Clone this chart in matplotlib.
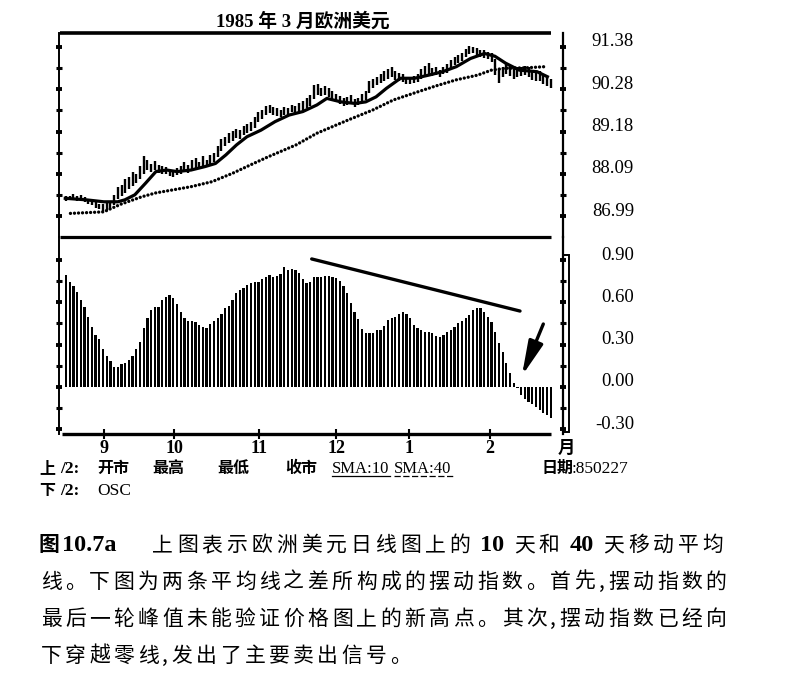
import matplotlib
matplotlib.use('Agg')
import matplotlib.pyplot as plt
import matplotlib.transforms as mtrans
from matplotlib.patches import Rectangle

W, H = 799, 688
CJK = 'Noto Sans CJK SC'
SERIF = 'Liberation Serif'
plt.rcParams['font.family'] = [SERIF, CJK, 'DejaVu Sans']

# ---------------- data ----------------
title = '1985 年 3 月欧洲美元'
month_pos = [10.3, 29.2, 52.2, 73.0, 92.7, 114.6]
month_labels = ['9', '10', '11', '12', '1', '2']
price_ticks = [86.99, 88.09, 89.18, 90.28, 91.38]
osc_ticks = [0.90, 0.60, 0.30, 0.00, -0.30]

highs = [87.53, 87.52, 87.56, 87.52, 87.55, 87.50, 87.45, 87.40, 87.38, 87.32,
         87.30, 87.33, 87.38, 87.55, 87.75, 87.80, 87.95, 88.00, 88.15, 88.10,
         88.30, 88.55, 88.45, 88.35, 88.42, 88.32, 88.30, 88.28, 88.20, 88.18,
         88.25, 88.30, 88.40, 88.32, 88.45, 88.50, 88.40, 88.55, 88.45, 88.58,
         88.62, 88.80, 89.00, 89.05, 89.15, 89.20, 89.25, 89.22, 89.32, 89.38,
         89.42, 89.55, 89.68, 89.75, 89.85, 89.88, 89.82, 89.80, 89.75, 89.82,
         89.80, 89.88, 89.85, 89.92, 89.98, 90.05, 90.12, 90.38, 90.40, 90.32,
         90.35, 90.30, 90.22, 90.15, 90.10, 90.05, 90.08, 90.12, 90.02, 90.05,
         90.15, 90.22, 90.50, 90.55, 90.60, 90.68, 90.75, 90.80, 90.86, 90.75,
         90.70, 90.66, 90.60, 90.58, 90.62, 90.66, 90.80, 90.88, 90.95, 90.82,
         90.85, 90.78, 90.86, 90.92, 91.02, 91.12, 91.16, 91.22, 91.32, 91.39,
         91.38, 91.34, 91.30, 91.28, 91.25, 91.22, 91.05, 90.80, 90.85, 90.95,
         90.90, 90.80, 90.85, 90.86, 90.88, 90.84, 90.76, 90.72, 90.74, 90.64,
         90.60, 90.55]
lows = [87.40, 87.41, 87.43, 87.40, 87.42, 87.37, 87.30, 87.28, 87.22, 87.18,
        87.14, 87.17, 87.22, 87.28, 87.45, 87.52, 87.60, 87.70, 87.78, 87.85,
        87.95, 88.08, 88.18, 88.15, 88.20, 88.12, 88.10, 88.08, 88.03, 88.00,
        88.05, 88.10, 88.15, 88.12, 88.20, 88.25, 88.22, 88.28, 88.26, 88.32,
        88.40, 88.52, 88.68, 88.80, 88.90, 88.95, 89.02, 89.00, 89.10, 89.15,
        89.20, 89.28, 89.42, 89.50, 89.60, 89.66, 89.62, 89.58, 89.55, 89.60,
        89.62, 89.68, 89.66, 89.70, 89.75, 89.80, 89.85, 90.02, 90.12, 90.10,
        90.12, 90.08, 90.02, 89.95, 89.90, 89.85, 89.88, 89.90, 89.82, 89.86,
        89.95, 90.00, 90.18, 90.30, 90.38, 90.45, 90.50, 90.55, 90.60, 90.52,
        90.48, 90.46, 90.42, 90.40, 90.44, 90.46, 90.55, 90.62, 90.66, 90.62,
        90.64, 90.60, 90.66, 90.70, 90.80, 90.90, 90.95, 91.00, 91.10, 91.18,
        91.20, 91.15, 91.10, 91.08, 91.05, 90.98, 90.65, 90.44, 90.58, 90.66,
        90.62, 90.55, 90.60, 90.62, 90.64, 90.60, 90.52, 90.48, 90.50, 90.40,
        90.36, 90.32]

sma10_day = [-0.2, 5.5, 10.2, 14.0, 15.9, 18.6, 21.5, 24.3, 27.2, 30.0, 33.8,
             37.6, 40.4, 43.2, 46.1, 48.9, 52.7, 56.5, 60.3, 64.0, 67.8, 70.5,
             74.3, 78.1, 81.0, 83.8, 86.6, 90.4, 94.2, 98.0, 101.8, 105.5,
             109.3, 113.1, 115.9, 118.8, 122.5, 127.3, 130.1]
sma10_val = [87.46, 87.42, 87.37, 87.37, 87.42, 87.55, 87.85, 88.15, 88.19,
             88.15, 88.19, 88.28, 88.36, 88.58, 88.84, 89.05, 89.22, 89.44,
             89.61, 89.70, 89.87, 90.04, 89.95, 89.91, 89.95, 90.08, 90.30,
             90.56, 90.56, 90.64, 90.73, 90.86, 91.07, 91.20, 91.13, 90.95,
             90.77, 90.73, 90.60]

sma40_day = [1.2, 10.2, 11.6, 14.9, 20.5, 24.3, 33.8, 39.5, 45.1, 49.8, 54.6,
             62.2, 67.8, 76.2, 82.9, 88.5, 95.1, 99.9, 105.5, 111.2, 115.0,
             118.8, 124.4, 129.6]
sma40_val = [87.07, 87.11, 87.17, 87.31, 87.50, 87.60, 87.76, 87.89, 88.11,
             88.32, 88.53, 88.84, 89.14, 89.48, 89.74, 90.00, 90.21, 90.36,
             90.52, 90.64, 90.77, 90.82, 90.83, 90.86]

osc = [0.794, 0.746, 0.716, 0.671, 0.617, 0.565, 0.498, 0.422, 0.368, 0.337,
       0.268, 0.219, 0.185, 0.143, 0.138, 0.162, 0.167, 0.190, 0.219, 0.266,
       0.320, 0.415, 0.486, 0.545, 0.565, 0.569, 0.617, 0.640, 0.652, 0.628,
       0.588, 0.534, 0.486, 0.470, 0.467, 0.462, 0.439, 0.422, 0.420, 0.446,
       0.470, 0.486, 0.517,
       0.557, 0.574, 0.617, 0.668, 0.687, 0.704, 0.723, 0.735, 0.742, 0.746,
       0.763, 0.782, 0.794, 0.782, 0.787, 0.801, 0.853, 0.830, 0.834, 0.830,
       0.806, 0.763, 0.739, 0.746, 0.782, 0.782, 0.782, 0.787, 0.787, 0.782,
       0.770, 0.753, 0.716, 0.664, 0.597, 0.534, 0.479, 0.410, 0.384, 0.380,
       0.384,
       0.400, 0.403, 0.432, 0.474, 0.486, 0.498, 0.517, 0.534, 0.517, 0.486,
       0.439, 0.415, 0.403, 0.391, 0.389, 0.380, 0.361, 0.351, 0.368, 0.391,
       0.403, 0.427, 0.455, 0.470, 0.486, 0.510, 0.545, 0.557, 0.557, 0.534,
       0.498, 0.462, 0.391, 0.313, 0.249, 0.171, 0.096, 0.029, -0.008, -0.058,
       -0.089, -0.106, -0.122, -0.141, -0.165, -0.188, -0.200, -0.224]

trend_day = [66.4, 122.7]
trend_val = [0.908, 0.538]
arrow_tail = (129.0, 0.446)
arrow_tip = (123.2, 0.077)

caption_line1 = list('上图表示欧洲美元日线图上的') + ['10'] + list('天和') + ['40'] + list('天移动平均')
caption_line2 = '线。下图为两条平均线之差所构成的摆动指数。首先,摆动指数的'
caption_line3 = '最后一轮峰值未能验证价格图上的新高点。其次,摆动指数已经向'
caption_line4 = '下穿越零线,发出了主要卖出信号。'

days = list(range(len(osc)))

# ---------------- layout helpers ----------------
fig = plt.figure(figsize=(W / 100, H / 100), dpi=100)
fig.patch.set_facecolor('white')


def fx(px):
    return px / W


def fy(py):
    return 1 - py / H


def ftext(px, py, s, size, weight='normal', family=None, ha='left', va='baseline', **kw):
    return fig.text(fx(px), fy(py), s, fontsize=size, fontweight=weight,
                    family=family if family else [SERIF, CJK], ha=ha, va=va, **kw)


L, R = 59, 563
ax1 = fig.add_axes([fx(L), fy(237), fx(R) - fx(L), fy(33) - fy(237)])
ax2 = fig.add_axes([fx(L), fy(434), fx(R) - fx(L), fy(237) - fy(434)])
xlim = (-1.892, 134.32)
for ax in (ax1, ax2):
    ax.set_xlim(*xlim)
    ax.set_facecolor('none')
    ax.spines['top'].set_visible(False)
    ax.spines['bottom'].set_visible(False)
    ax.spines['left'].set_linewidth(1.4)
    ax.spines['right'].set_linewidth(1.6)
    ax.tick_params(axis='y', which='both', left=True, right=True,
                   direction='inout', labelleft=False, labelright=False)
    ax.tick_params(axis='y', which='major', length=5, width=2.8)
    ax.tick_params(axis='y', which='minor', length=4, width=2.2)

ax1.set_ylim(86.4605, 91.729)
ax2.set_ylim(-0.3352, 1.0639)

# ticks
ax1.set_yticks(price_ticks)
ax1.set_yticks([(a + b) / 2 for a, b in zip(price_ticks[:-1], price_ticks[1:])], minor=True)
ax2.set_yticks(osc_ticks)
ax2.set_yticks([(a + b) / 2 for a, b in zip(osc_ticks[:-1], osc_ticks[1:])], minor=True)
ax1.set_xticks([])
ax2.set_xticks(month_pos, month_labels)
ax2.tick_params(axis='x', which='major', direction='inout', length=7, width=1.5,
                pad=0.5, labelsize=13)
for lab in ax2.get_xticklabels():
    lab.set_fontweight('bold')
    lab.set_family(SERIF)

# right-side labels, right-aligned, slightly raised
off = mtrans.ScaledTranslation(0, 0.05, fig.dpi_scale_trans)
xlab = (634 - L) / (R - L)
for ax, ticks in ((ax1, price_ticks), (ax2, osc_ticks)):
    tr = mtrans.blended_transform_factory(ax.transAxes, ax.transData) + off
    for t in ticks:
        ax.text(xlab, t, '%.2f' % t, transform=tr, ha='right', va='center',
                fontsize=13.5, family=SERIF, clip_on=False)

# thick horizontal frame lines
x0, x1 = (60 - L) / (R - L), (551 - L) / (R - L)
ax1.plot([x0, x1], [1, 1], transform=ax1.transAxes, color='k', lw=2.6,
         clip_on=False, solid_capstyle='butt')
ax1.plot([x0, x1], [0, 0], transform=ax1.transAxes, color='k', lw=2.3,
         clip_on=False, solid_capstyle='butt')
ax2.plot([(62 - L) / (R - L), x1], [0, 0], transform=ax2.transAxes, color='k',
         lw=2.4, clip_on=False, solid_capstyle='butt')

# bracket box on the right of the oscillator axis
fig.add_artist(Rectangle((fx(563), fy(432)), fx(569) - fx(563), fy(255) - fy(432),
                         transform=fig.transFigure, fill=False, lw=1.4, ec='k'))

# ---------------- price panel ----------------
ax1.vlines(days, lows, highs, color='k', lw=1.7)
ax1.plot(sma10_day, sma10_val, color='k', lw=2.3, solid_joinstyle='round')
ax1.plot(sma40_day, sma40_val, color='k', lw=2.4, ls=(0, (0.01, 1.2)),
         dash_capstyle='round')

# ---------------- oscillator panel ----------------
ax2.bar(days, osc, width=0.6, color='k', linewidth=0)
ax2.plot(trend_day, trend_val, color='k', lw=2.4, solid_capstyle='round')
ax2.annotate('', xy=arrow_tip, xytext=arrow_tail,
             arrowprops=dict(arrowstyle='-|>,head_length=1.3,head_width=0.28',
                             lw=2.4, color='k', mutation_scale=16,
                             shrinkA=0, shrinkB=0))

# ---------------- texts ----------------
ftext(303, 27, title, 13.5, weight='bold', ha='center')
ftext(566, 453, '月', 12.5, weight='bold', family=[CJK], ha='center')

r1, r2 = 473, 495
ftext(39, r1, '上', 11.5, weight='bold', family=[CJK])
ftext(60, r1, '/2:', 12.5, weight='bold', family=[SERIF])
for px, s in ((97, '开市'), (152, '最高'), (217, '最低'), (285, '收市')):
    ftext(px, r1, s, 11.5, weight='bold', family=[CJK])
ftext(332, r1, 'SMA:10', 12, family=[SERIF])
ftext(394, r1, 'SMA:40', 12, family=[SERIF])
fig.add_artist(plt.Line2D([fx(332), fx(390)], [fy(r1 + 3), fy(r1 + 3)], color='k', lw=0.9))
fig.add_artist(plt.Line2D([fx(394), fx(453)], [fy(r1 + 3), fy(r1 + 3)], color='k', lw=0.9,
                          ls=(0, (5, 2))))
ftext(541, r1, '日期', 11.5, weight='bold', family=[CJK])
ftext(572, r1, ':850227', 12.5, family=[SERIF])
ftext(39, r2, '下', 11.5, weight='bold', family=[CJK])
ftext(60, r2, '/2:', 12.5, weight='bold', family=[SERIF])
ftext(97, r2, 'OSC', 12.5, family=[SERIF])

# caption, laid out on a character grid (justified like the book)
csize = 15
ftext(39, 551, '图', csize, weight='bold', family=[CJK])
ftext(62, 551, '10.7a', 17.5, weight='bold', family=[SERIF])


def lay(tokens, x_start, pitch, base, widths):
    cum = 0.0
    for tk in tokens:
        w = widths.get(tk, 1.0)
        xc = x_start + (cum + w / 2) * pitch
        if tk.isdigit():
            ftext(xc, base, tk, 17.5, weight='bold', family=[SERIF], ha='center')
        else:
            ftext(xc, base, tk, csize, family=[CJK], ha='center')
        cum += w


lay(caption_line1, 150, 24.8, 551, {'10': 1.6, '40': 1.6})
p23 = (728 - 39) / 28.4
lay(list(caption_line2), 39, p23, 588, {',': 0.4})
lay(list(caption_line3), 39, p23, 625, {',': 0.4})
lay(list(caption_line4), 39, p23, 662, {',': 0.4})

fig.savefig('out.png', dpi=100, facecolor='white')
